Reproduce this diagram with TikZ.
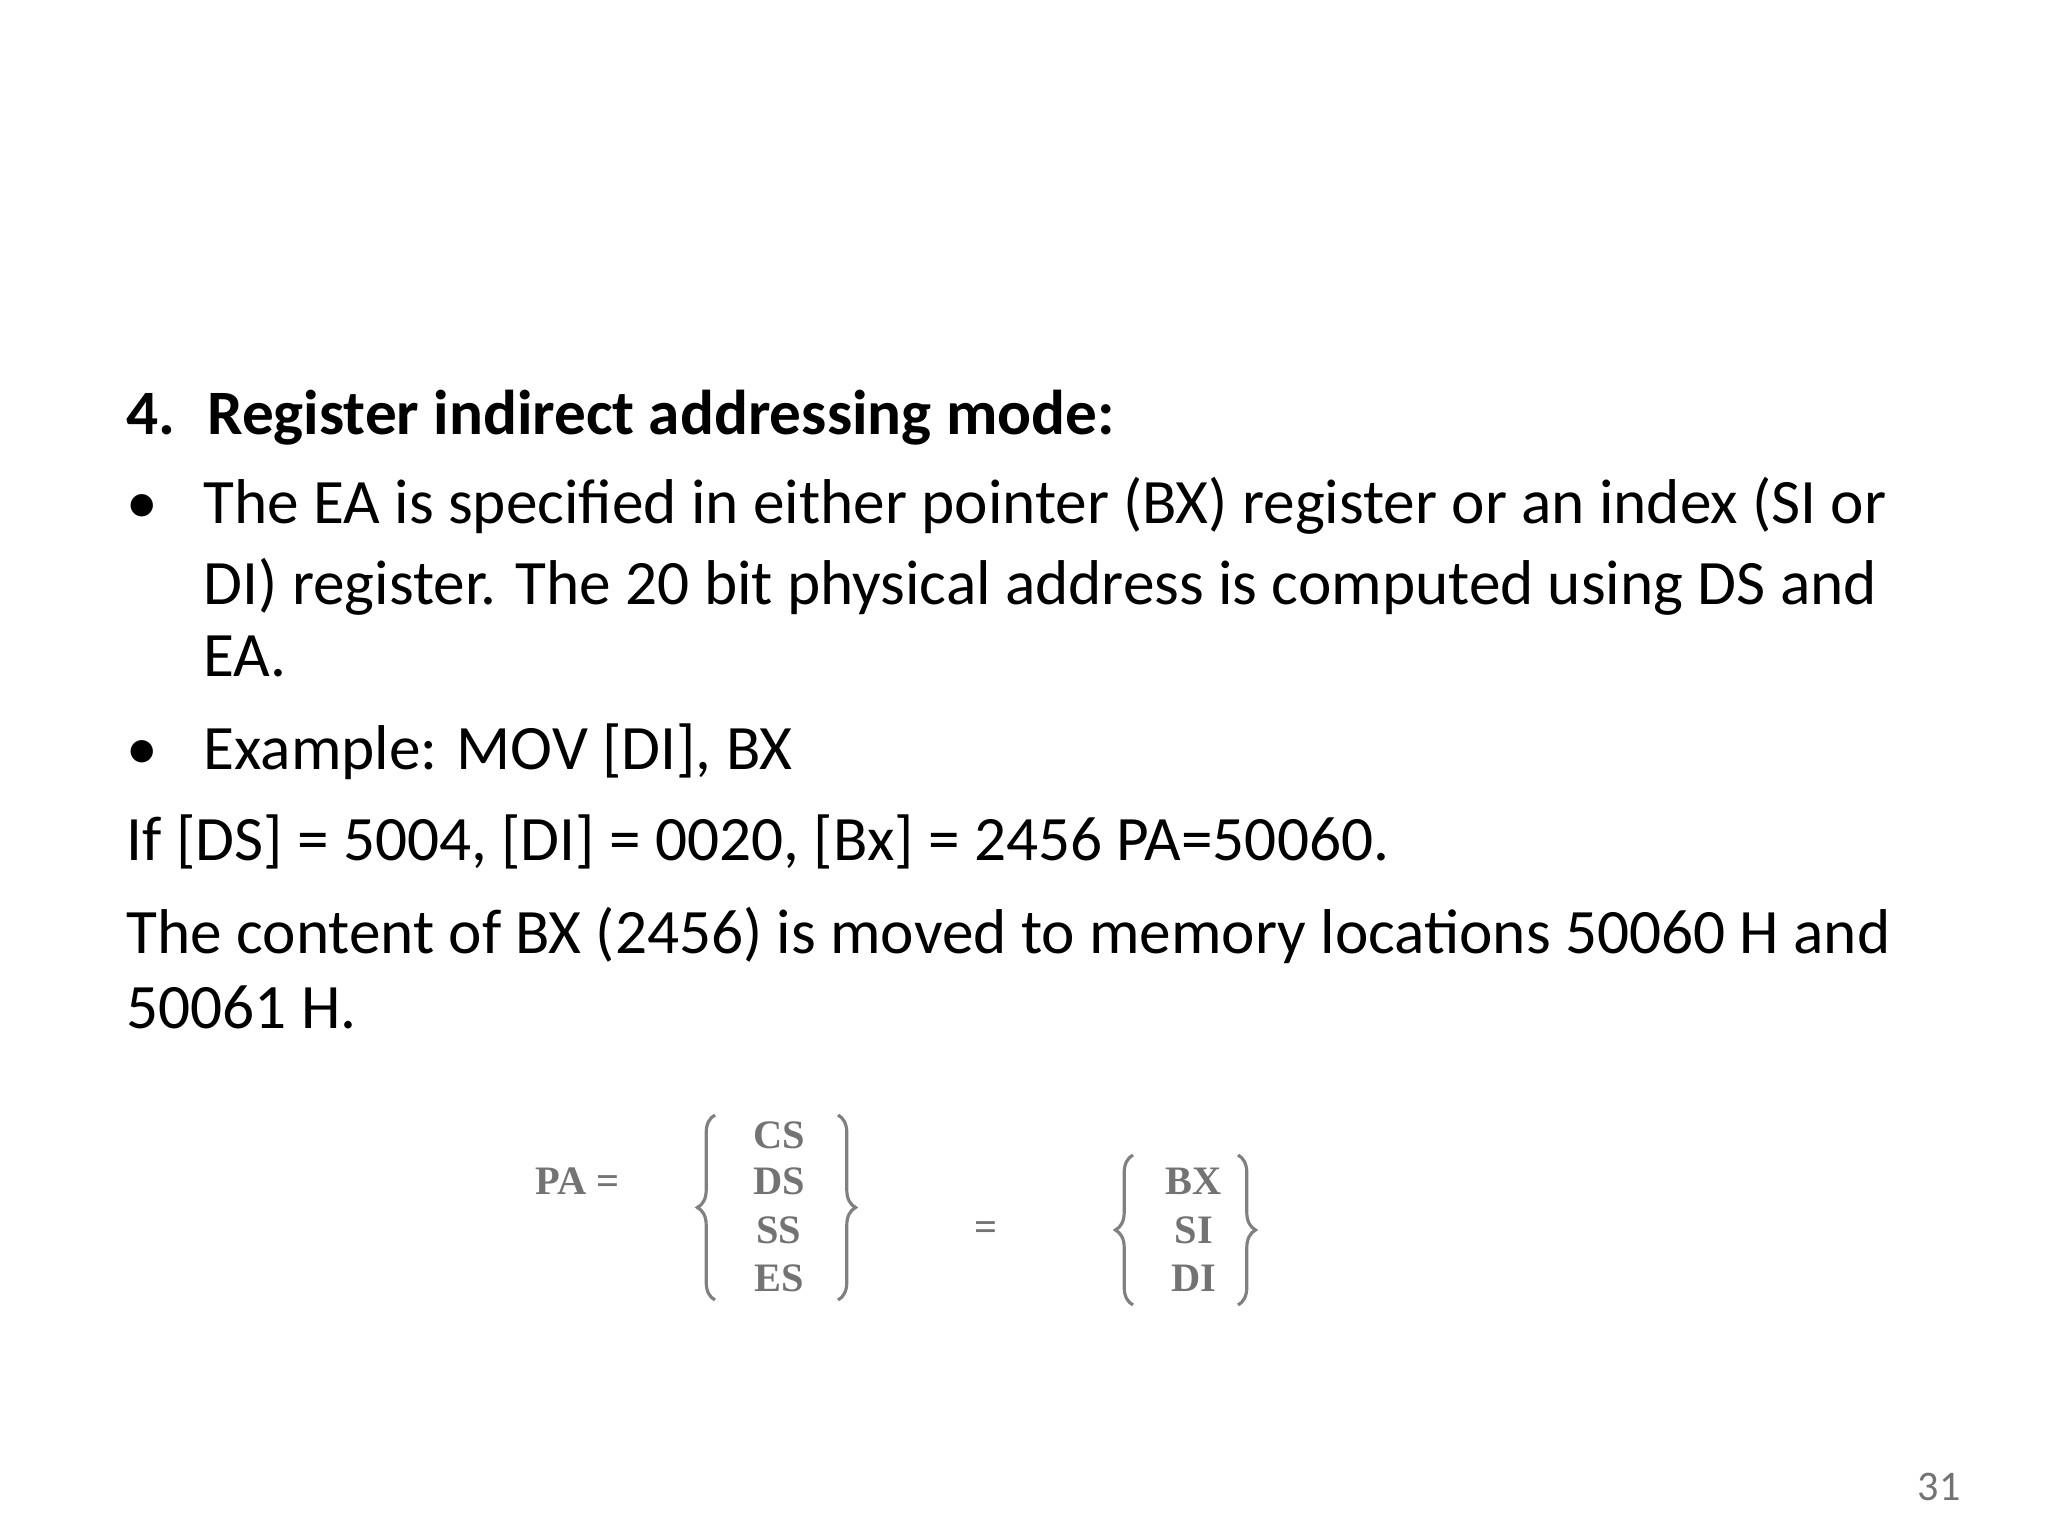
\documentclass[tikz,border=0pt]{standalone}
\usepackage{fontspec}
\setmainfont{Carlito}
\newfontfamily\diagfont{Liberation Serif}
\usetikzlibrary{decorations.pathreplacing}
\tikzset{
  txt/.style={anchor=base west,inner sep=0pt,font=\fontsize{18}{21.6}\selectfont},
  reg/.style={inner sep=0pt,font=\diagfont\bfseries\fontsize{11.5}{13}\selectfont,text=black!55},
  brc/.style={draw=black!50,line width=0.9pt,decorate,decoration={brace,amplitude=5pt}}
}
\begin{document}
\begin{tikzpicture}[x=1cm,y=-1cm]
\useasboundingbox (0,0) rectangle (20.48,15.36);
\node[txt] (t) at (1.26,4.35) {\textbf{4.\enspace Register indirect addressing mode:}};
\node[txt] (b1) at (1.26,5.24) {•};
\node[txt] (l1) at (2.03,5.24) {The EA is specified in either pointer (BX) register or an index (SI or};
\node[txt] (l2) at (2.03,6.04) {DI) register. The 20 bit physical address is computed using DS and};
\node[txt] (l3) at (2.03,6.77) {EA.};
\node[txt] (b2) at (1.26,7.70) {•};
\node[txt] (l4) at (2.03,7.70) {Example: MOV [DI], BX};
\node[txt] (l5) at (1.26,8.60) {If [DS] = 5004, [DI] = 0020, [Bx] = 2456 PA=50060.};
\node[txt] (l6) at (1.26,9.53) {The content of BX (2456) is moved to memory locations 50060 H and};
\node[txt] (l7) at (1.26,10.28) {50061 H.};
% diagram
\node[reg] (pa) at (5.78,11.81) {PA =};
\node[reg] (cs) at (7.79,11.35) {CS};
\node[reg] (ds) at (7.79,11.81) {DS};
\node[reg] (ss) at (7.79,12.30) {SS};
\node[reg] (es) at (7.79,12.78) {ES};
\node[reg] (eq) at (9.86,12.31) {=};
\node[reg] (bx) at (11.94,11.81) {BX};
\node[reg] (si) at (11.94,12.30) {SI};
\node[reg] (di) at (11.94,12.78) {DI};
\draw[brc] (7.15,13.0) -- (7.15,11.15);
\draw[brc] (8.38,11.15) -- (8.38,13.0);
\draw[brc] (11.33,13.05) -- (11.33,11.55);
\draw[brc] (12.38,11.55) -- (12.38,13.05);
\node[anchor=base,inner sep=0pt,font=\fontsize{12}{14}\selectfont,text=black!55] (pg) at (19.39,15.0) {31};
\end{tikzpicture}
\end{document}
